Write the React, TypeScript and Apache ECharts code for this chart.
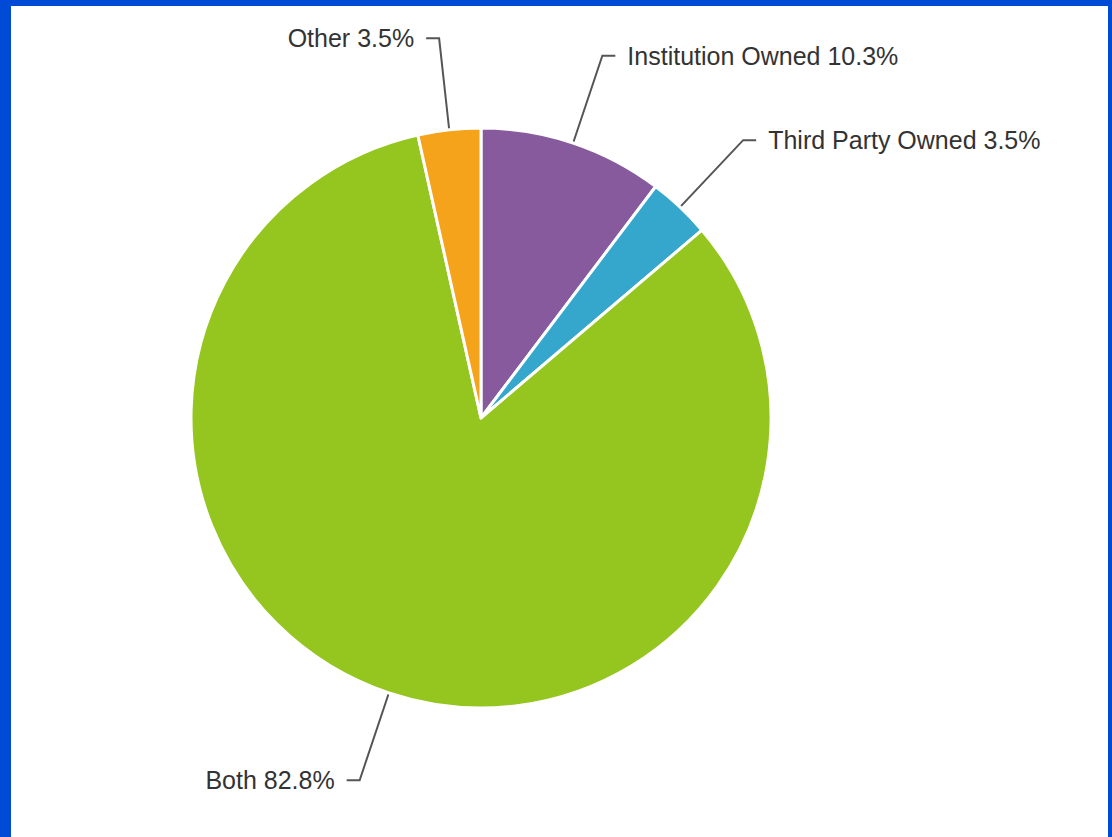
import React, { useEffect, useRef } from "react";
import * as echarts from "echarts";

const categories = ["Institution Owned", "Third Party Owned", "Both", "Other"];
const values = [10.3, 3.5, 82.8, 3.5];
const colors = ["#875a9d", "#35a6cc", "#95c61f", "#f6a31c"];

export default function App() {
  const ref = useRef<HTMLDivElement>(null);
  useEffect(() => {
    if (!ref.current) return;
    const chart = echarts.init(ref.current, undefined, { renderer: "svg" });
    chart.setOption({
      animation: false,
      backgroundColor: "#ffffff",
      series: [
        {
          type: "pie",
          center: [470, 412],
          radius: [0, 290],
          startAngle: 90,
          clockwise: true,
          avoidLabelOverlap: false,
          data: categories.map((name, i) => ({
            name,
            value: values[i],
            itemStyle: { color: colors[i] },
          })),
          itemStyle: { borderColor: "#ffffff", borderWidth: 3 },
          label: {
            show: true,
            formatter: (p: any) => `${p.name} ${p.value.toFixed(1)}%`,
            fontFamily: "Liberation Sans, Arial, sans-serif",
            fontSize: 25,
            color: "#333333",
            distanceToLabelLine: 12,
            padding: [6, 0, 0, 0],
          },
          labelLine: {
            show: true,
            length: 92,
            length2: 13,
            smooth: false,
            lineStyle: { color: "#555555", width: 2 },
          },
          emphasis: { disabled: true },
        },
      ],
    });
    return () => chart.dispose();
  }, []);
  return (
    <div
      style={{
        position: "absolute",
        left: 0,
        top: 0,
        width: 1112,
        height: 837,
        background: "#004bd6",
      }}
    >
      <div
        ref={ref}
        style={{
          position: "absolute",
          left: 11,
          top: 6,
          width: 1097,
          height: 831,
          background: "#ffffff",
        }}
      />
    </div>
  );
}
